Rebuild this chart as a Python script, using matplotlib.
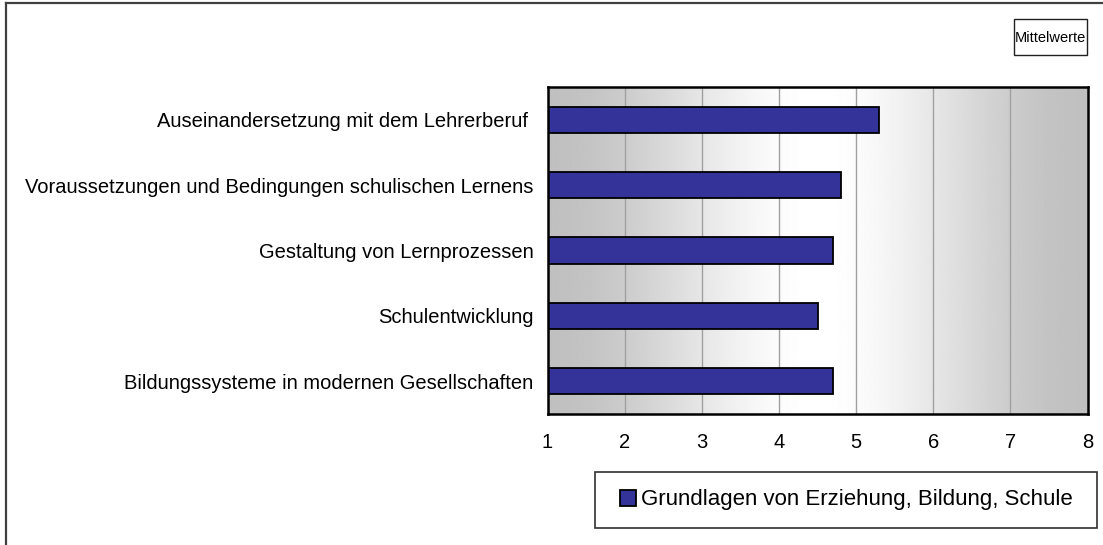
import numpy as np
import matplotlib
matplotlib.use("Agg")
import matplotlib.pyplot as plt
from matplotlib.patches import Rectangle
from matplotlib.lines import Line2D

plt.rcParams['font.family'] = ['Liberation Sans', 'DejaVu Sans']

categories = [
    "Auseinandersetzung mit dem Lehrerberuf ",
    "Voraussetzungen und Bedingungen schulischen Lernens",
    "Gestaltung von Lernprozessen",
    "Schulentwicklung",
    "Bildungssysteme in modernen Gesellschaften",
]
values = [5.3, 4.8, 4.7, 4.5, 4.7]
series_name = "Grundlagen von Erziehung, Bildung, Schule"
x_ticks = [1, 2, 3, 4, 5, 6, 7, 8]
box_label = "Mittelwerte"

W, H = 1103, 545
fig = plt.figure(figsize=(W / 100, H / 100), dpi=100)

def fx(px):
    return px / W

def fy(py):
    return 1 - py / H

# outer frame (left and top lines)
fig.add_artist(Line2D([fx(5.5), fx(5.5)], [fy(2.5), fy(545)], color='#404040', lw=1.6,
                      transform=fig.transFigure))
fig.add_artist(Line2D([fx(5.5), fx(1103)], [fy(2.5), fy(2.5)], color='#404040', lw=1.6,
                      transform=fig.transFigure))

left, right, top, bottom = 547.5, 1087.5, 87, 414
ax = fig.add_axes([fx(left), fy(bottom), (right - left) / W, (bottom - top) / H])

# background gradient
xs = np.linspace(1, 8, 700)
t = np.abs(xs - 4.5) / 3.5
s = 3 * t ** 2 - 2 * t ** 3
inten = 255 - 63 * s
ax.imshow(inten[np.newaxis, :], extent=[1, 8, -0.5, len(categories) - 0.5], aspect='auto',
          cmap='gray', vmin=0, vmax=255, zorder=0, interpolation='bilinear')

for xv in x_ticks[1:-1]:
    ax.axvline(xv, color='#a0a0a0', lw=1.0, zorder=1)

ypos = np.arange(len(categories))[::-1]
bars = ax.barh(ypos, np.array(values) - 1, left=1, height=0.4, color='#333399',
               edgecolor='black', linewidth=1.3, zorder=3)

ax.set_xlim(1, 8)
ax.set_ylim(-0.5, len(categories) - 0.5)
ax.set_yticks(ypos)
ax.set_yticklabels(categories, fontsize=14.5)
ax.set_xticks(x_ticks)
ax.set_xticklabels([str(v) for v in x_ticks], fontsize=14.5)
ax.tick_params(axis='both', length=0)
ax.tick_params(axis='y', pad=10)
ax.tick_params(axis='x', pad=14)
for sp in ax.spines.values():
    sp.set_linewidth(1.8)
    sp.set_color('black')
    sp.set_zorder(5)

# Mittelwerte box
bx0, by0, bx1, by1 = 1014, 19, 1087, 55
fig.add_artist(Rectangle((fx(bx0), fy(by1)), (bx1 - bx0) / W, (by1 - by0) / H,
                         transform=fig.transFigure, facecolor='white', edgecolor='#202020', lw=1.0))
fig.text(fx((bx0 + bx1) / 2), fy((by0 + by1) / 2 + 1), box_label, ha='center', va='center',
         fontsize=10.5)

# legend with framed box
lx0, ly0, lx1, ly1 = 595, 472, 1097, 528
fig.add_artist(Rectangle((fx(lx0), fy(ly1)), (lx1 - lx0) / W, (ly1 - ly0) / H,
                         transform=fig.transFigure, facecolor='white', edgecolor='#303030',
                         lw=1.2, zorder=1))
leg = fig.legend([bars], [series_name], loc='center',
                 bbox_to_anchor=(fx(lx0), fy(ly1), (lx1 - lx0) / W, (ly1 - ly0) / H),
                 bbox_transform=fig.transFigure, frameon=False, fontsize=16,
                 handlelength=0.75, handleheight=0.75, handletextpad=0.2, borderpad=0.0)
leg.set_zorder(10)

fig.savefig("out.png", dpi=100)
